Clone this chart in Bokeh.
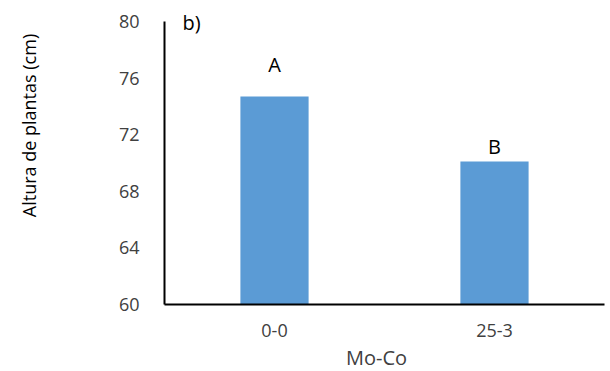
from bokeh.plotting import figure
from bokeh.models import Label, ColumnDataSource, FixedTicker, Range1d
from bokeh.core.properties import value
from bokeh.embed import file_html
from bokeh.resources import INLINE

categories = ["0-0", "25-3"]
heights = [74.7, 70.1]
letters = ["A", "B"]
letter_y = [76.95, 71.15]
y_ticks = [60, 64, 68, 72, 76, 80]

FONT = "Open Sans"

x_pos = [i + 0.5 for i in range(len(categories))]

p = figure(x_range=Range1d(-0.7455, 2.0273), y_range=Range1d(55.265, 81.484),
           width=610, height=371, output_backend="svg", toolbar_location=None,
           min_border_left=0, min_border_right=0, min_border_top=0, min_border_bottom=0)
p.outline_line_color = None
p.grid.grid_line_color = None

src = ColumnDataSource(dict(x=x_pos, top=heights))
p.vbar(x="x", top="top", bottom=60, width=0.31, source=src, color="#5B9BD5", line_color=None)

lsrc = ColumnDataSource(dict(x=x_pos, y=letter_y, t=letters))
p.text(x="x", y="y", text="t", source=lsrc, text_align="center", text_baseline="middle",
       text_font=value(FONT), text_font_size="20px", text_color="black")

p.yaxis.fixed_location = 0
p.yaxis.bounds = (60, 80)
p.yaxis.ticker = FixedTicker(ticks=y_ticks)
p.yaxis.major_tick_line_color = None
p.yaxis.minor_tick_line_color = None
p.yaxis.axis_line_width = 2
p.yaxis.axis_line_color = "black"
p.yaxis.major_label_standoff = 19
p.yaxis.major_label_text_font = FONT
p.yaxis.major_label_text_font_size = "18px"
p.yaxis.major_label_text_color = "#404040"

p.xaxis.fixed_location = 60
p.xaxis.bounds = (0, len(categories))
p.xaxis.ticker = FixedTicker(ticks=x_pos)
p.xaxis.major_label_overrides = {x: c for x, c in zip(x_pos, categories)}
p.xaxis.major_tick_line_color = None
p.xaxis.minor_tick_line_color = None
p.xaxis.axis_line_width = 2
p.xaxis.axis_line_color = "black"
p.xaxis.major_label_standoff = 14
p.xaxis.major_label_text_font = FONT
p.xaxis.major_label_text_font_size = "18px"
p.xaxis.major_label_text_color = "#404040"

xlab = Label(x=0.9636, y=56.28, text="Mo-Co", text_align="center", text_baseline="middle",
             text_font=FONT, text_font_size="20px", text_color="#404040")
p.add_layout(xlab)

ylab = Label(x=-0.618, y=72.65, text="Altura de plantas (cm)", angle=1.5708,
             angle_units="rad", text_align="center", text_baseline="middle",
             text_font=FONT, text_font_size="18px", text_color="black")
p.add_layout(ylab)

tag = Label(x=0.082, y=79.95, text="b)", text_align="left",
            text_baseline="middle", text_font=FONT, text_font_size="20px", text_color="black")
p.add_layout(tag)

open("out.html", "w").write(file_html(p, INLINE))
